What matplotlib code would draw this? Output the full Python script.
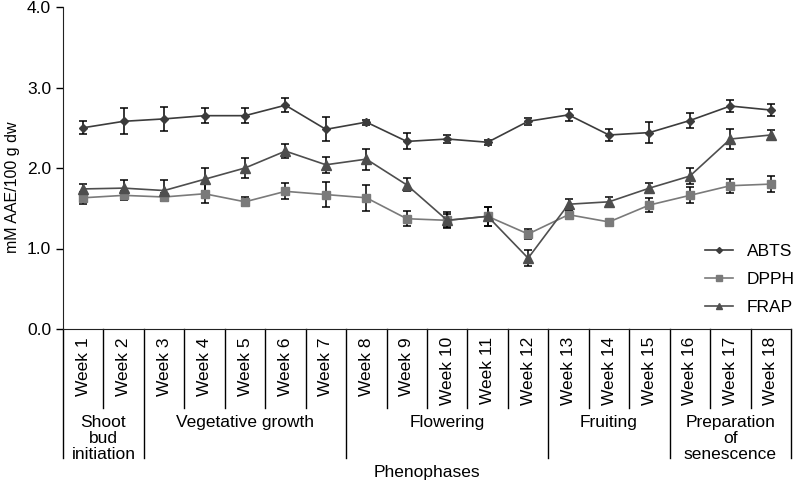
import numpy as np
import matplotlib.pyplot as plt
from matplotlib import transforms
from matplotlib.lines import Line2D

plt.rcParams['font.family'] = ['Liberation Sans', 'DejaVu Sans']

# weekly antioxidant capacity values (mM AAE/100 g dw)
weeks = ['Week %d' % i for i in range(1, 19)]
abts = [2.50, 2.58, 2.61, 2.65, 2.65, 2.78, 2.48, 2.57, 2.33, 2.36,
        2.32, 2.58, 2.66, 2.41, 2.44, 2.59, 2.77, 2.72]
abts_err = [0.08, 0.16, 0.15, 0.09, 0.09, 0.09, 0.15, 0.03, 0.10, 0.045,
            0.03, 0.045, 0.075, 0.07, 0.13, 0.09, 0.08, 0.075]
dpph = [1.63, 1.66, 1.64, 1.68, 1.58, 1.71, 1.67, 1.63, 1.37, 1.35,
        1.40, 1.18, 1.42, 1.33, 1.54, 1.66, 1.78, 1.80]
dpph_err = [0.075, 0.06, 0.05, 0.12, 0.055, 0.10, 0.155, 0.16, 0.09, 0.08,
            0.12, 0.065, 0.05, 0.03, 0.085, 0.10, 0.085, 0.095]
frap = [1.74, 1.75, 1.72, 1.86, 2.00, 2.21, 2.04, 2.11, 1.79, 1.35,
        1.40, 0.88, 1.55, 1.58, 1.75, 1.90, 2.36, 2.41]
frap_err = [0.065, 0.10, 0.13, 0.14, 0.13, 0.09, 0.10, 0.13, 0.08, 0.10,
            0.12, 0.10, 0.07, 0.06, 0.065, 0.10, 0.12, 0.06]

# phenophase groups: label, first week index, last week index
phases = ['Shoot\nbud\ninitiation', 'Vegetative growth', 'Flowering',
          'Fruiting', 'Preparation\nof\nsenescence']
phase_start = [0, 2, 7, 12, 15]
phase_end = [1, 6, 11, 14, 17]

fig = plt.figure(figsize=(7.98, 4.83), dpi=100)
ax = fig.add_axes([63/798, (483-329)/483, 728/798, 322/483])

x = np.arange(len(weeks))
styles = [('ABTS', abts, abts_err, '#3c3c3c', 'D', 4.5),
          ('DPPH', dpph, dpph_err, '#7a7a7a', 's', 6),
          ('FRAP', frap, frap_err, '#4e4e4e', '^', 6.5)]
handles = []
for name, vals, err, col, mk, ms in styles:
    ax.errorbar(x, vals, yerr=err, color=col, marker=mk, ms=ms, lw=1.2,
                ecolor='black', elinewidth=1.1, capsize=3, capthick=1.1,
                zorder=3)
    handles.append(Line2D([], [], color=col, marker=mk, ms=ms - 1.5, lw=1.2,
                          label=name))

ax.set_xlim(-0.5, len(weeks) - 0.5)
ax.set_ylim(0, 4)
ax.set_yticks([0, 1, 2, 3, 4])
ax.set_yticklabels(['%.1f' % v for v in [0, 1, 2, 3, 4]], fontsize=12.5)
ax.set_xticks([])
ax.tick_params(axis='y', direction='out', length=5, width=1)
ax.spines['top'].set_visible(False)
ax.spines['right'].set_visible(False)
for s in ['left', 'bottom']:
    ax.spines[s].set_color('#222222')
fig.text(13/798, 1 - 187/483, 'mM AAE/100 g dw', rotation=90, ha='center',
         va='center', fontsize=11.5)

trans = transforms.blended_transform_factory(ax.transData, ax.transAxes)
short_y = -79/322
long_y = -129/322
group_edges = [phase_start[0] - 0.5] + [e + 0.5 for e in phase_end]
for i in range(len(weeks) + 1):
    xb = i - 0.5
    y_end = long_y if xb in group_edges else short_y
    ax.plot([xb, xb], [0, y_end], color='black', lw=1, transform=trans,
            clip_on=False)

for i, w in enumerate(weeks):
    ax.text(i, -8/322, w, rotation=90, ha='center', va='top', fontsize=12.5,
            transform=trans)

for lab, s, e in zip(phases, phase_start, phase_end):
    ax.text((s + e) / 2, -86/322, lab, ha='center', va='top', fontsize=12.5,
            linespacing=1.1, transform=trans)

ax.text(0.5, -143/322, 'Phenophases', ha='center', va='center',
        fontsize=12.5, transform=ax.transAxes)

ax.legend(handles=handles, loc='center left', bbox_to_anchor=(0.882, 0.153),
          frameon=False, fontsize=12.5, handlelength=1.6, handletextpad=0.8,
          labelspacing=0.75, borderpad=0, borderaxespad=0)

fig.savefig('out.png', dpi=100)
